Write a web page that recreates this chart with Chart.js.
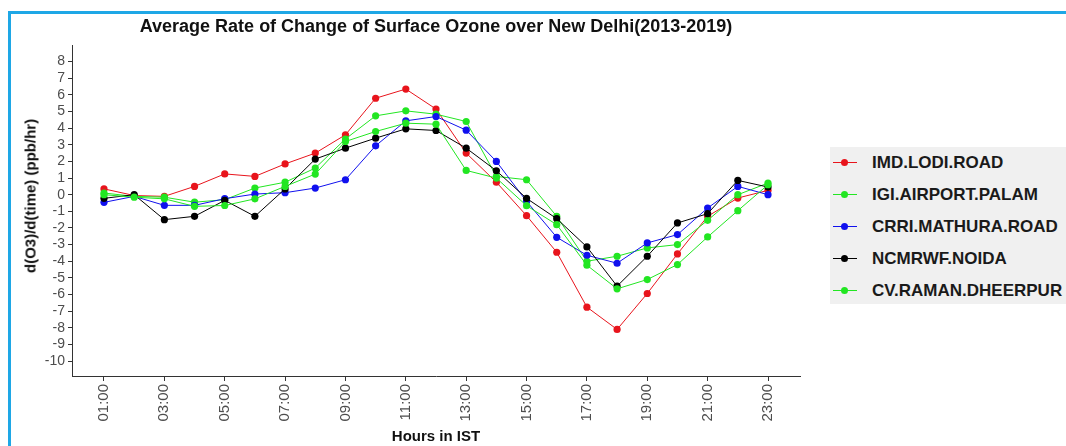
<!DOCTYPE html>
<html lang="en">
<head>
<meta charset="UTF-8">
<title>Average Rate of Change of Surface Ozone over New Delhi(2013-2019)</title>
<script src="https://cdn.jsdelivr.net/npm/chart.js"></script>
<style>
  body {
    margin: 0;
    background: white;
    font-family: 'Liberation Sans', Arial, sans-serif;
  }
  #wrap {
    position: relative;
    width: 1066px;
    height: 446px;
    overflow: hidden;
  }
  #frame {
    position: absolute;
    left: 8px;
    top: 11px;
    right: -5px;
    bottom: -5px;
    border-top: 3px solid #1ea7e6;
    border-left: 3px solid #1ea7e6;
  }
  #chartBox {
    position: absolute;
    left: 0;
    top: 0;
  }
  #yTitle {
    position: absolute;
    left: 30px;
    top: 196px;
    transform: translate(-50%, -50%) rotate(-90deg);
    font-size: 15px;
    font-weight: bold;
    color: #111;
    white-space: nowrap;
  }
  #legend {
    position: absolute;
    left: 830px;
    top: 147px;
    width: 236px;
    height: 157px;
    background: #f0f0f0;
  }
  .item {
    position: absolute;
    left: 0;
    height: 20px;
    width: 236px;
  }
  .swatch {
    position: absolute;
    left: 3px;
    top: 9px;
    width: 24px;
    height: 1px;
  }
  .dot {
    position: absolute;
    left: 11px;
    top: 6px;
    width: 7px;
    height: 7px;
    border-radius: 50%;
  }
  .label {
    position: absolute;
    left: 42px;
    top: 0;
    line-height: 20px;
    font-size: 17px;
    font-weight: bold;
    color: #1a1a1a;
    white-space: nowrap;
  }
</style>
</head>
<body>
<div id="wrap">
  <div id="frame"></div>
  <canvas id="chartBox" width="830" height="446"></canvas>
  <div id="yTitle">d(O3)/d(time) (ppb/hr)</div>
  <div id="legend"></div>
</div>

<script>
  const hourLabels = ["01:00","02:00","03:00","04:00","05:00","06:00","07:00","08:00","09:00","10:00","11:00","12:00",
                      "13:00","14:00","15:00","16:00","17:00","18:00","19:00","20:00","21:00","22:00","23:00"];
  const xTickHours = [1, 3, 5, 7, 9, 11, 13, 15, 17, 19, 21, 23];
  const yTicks = [-10, -9, -8, -7, -6, -5, -4, -3, -2, -1, 0, 1, 2, 3, 4, 5, 6, 7, 8];

  const lodiRoad   = [0.35, -0.05, -0.1, 0.5, 1.25, 1.1, 1.85, 2.5, 3.6, 5.8, 6.35, 5.15, 2.5, 0.75, -1.26, -3.46, -6.76, -8.1, -5.94, -3.56, -1.3, -0.2, 0.26];
  const airport    = [0.1, -0.1, -0.15, -0.45, -0.3, 0.4, 0.75, 1.6, 3.35, 4.74, 5.04, 4.84, 4.4, 1.1, 0.9, -1.3, -4.0, -3.7, -3.2, -3.0, -1.54, 0.0, 0.7];
  const mathura    = [-0.46, -0.1, -0.64, -0.64, -0.24, 0.04, 0.12, 0.4, 0.9, 2.94, 4.44, 4.7, 3.88, 2.0, -0.4, -2.56, -3.64, -4.12, -2.9, -2.4, -0.8, 0.5, 0.0];
  const noida      = [-0.22, 0.0, -1.5, -1.3, -0.34, -1.3, 0.35, 2.14, 2.8, 3.4, 3.96, 3.86, 2.8, 1.44, -0.22, -1.44, -3.14, -5.5, -3.7, -1.7, -1.14, 0.86, 0.46];
  const dheerpur   = [0.0, -0.15, -0.25, -0.7, -0.65, -0.25, 0.5, 1.24, 3.2, 3.8, 4.3, 4.24, 1.46, 1.0, -0.66, -1.8, -4.24, -5.66, -5.1, -4.2, -2.54, -0.96, 0.6];

  const seriesNames  = ["IMD.LODI.ROAD", "IGI.AIRPORT.PALAM", "CRRI.MATHURA.ROAD", "NCMRWF.NOIDA", "CV.RAMAN.DHEERPUR"];
  const seriesValues = [lodiRoad, airport, mathura, noida, dheerpur];
  const seriesColors = ["#e8141c", "#22e622", "#1010ee", "#000000", "#22e622"];

  Chart.defaults.font.family = "'Liberation Sans', Arial, sans-serif";

  const datasets = seriesNames.map((name, i) => ({
    label: name,
    data: seriesValues[i].map((v, h) => ({ x: h + 1, y: v })),
    borderColor: seriesColors[i],
    backgroundColor: seriesColors[i],
    pointBackgroundColor: seriesColors[i],
    pointBorderWidth: 0,
    pointRadius: 3.6,
    borderWidth: 1,
    tension: 0,
    order: seriesNames.length - i
  }));

  const ctx = document.getElementById("chartBox").getContext("2d");
  new Chart(ctx, {
    type: "line",
    data: { datasets },
    options: {
      responsive: false,
      animation: false,
      layout: { padding: { left: 0, right: 30, top: 0, bottom: 0 } },
      plugins: {
        legend: { display: false },
        tooltip: { enabled: false },
        title: {
          display: true,
          fullSize: false,
          text: "Average Rate of Change of Surface Ozone over New Delhi(2013-2019)",
          color: "#111",
          font: { size: 18, weight: "bold" },
          padding: { top: 16, bottom: 7.4 }
        }
      },
      scales: {
        x: {
          type: "linear",
          min: -0.06,
          max: 24.06,
          afterBuildTicks: s => { s.ticks = xTickHours.map(v => ({ value: v })); },
          afterFit: s => { s.height = 70; },
          ticks: {
            autoSkip: false,
            minRotation: 90,
            maxRotation: 90,
            color: "#4d4d4d",
            font: { size: 15 },
            padding: 3,
            callback: v => hourLabels[v - 1]
          },
          grid: { display: true, drawOnChartArea: false, tickLength: 5, color: "#333" },
          border: { color: "#333", width: 1 },
          title: {
            display: true,
            text: "Hours in IST",
            color: "#111",
            font: { size: 15, weight: "bold" },
            padding: { top: 0, bottom: 0 }
          }
        },
        y: {
          min: -10.9,
          max: 9.0,
          afterBuildTicks: s => { s.ticks = yTicks.map(v => ({ value: v })); },
          afterFit: s => { s.width = 72; },
          ticks: {
            autoSkip: false,
            color: "#4d4d4d",
            font: { size: 14 },
            padding: 3
          },
          grid: { display: true, drawOnChartArea: false, tickLength: 4, color: "#333" },
          border: { color: "#333", width: 1 }
        }
      }
    }
  });

  // legend box on the right, like the ggplot key
  const legend = document.getElementById("legend");
  seriesNames.forEach((name, i) => {
    const item = document.createElement("div");
    item.className = "item";
    item.style.top = (6 + i * 32) + "px";
    item.innerHTML =
      '<div class="swatch" style="background:' + seriesColors[i] + '"></div>' +
      '<div class="dot" style="background:' + seriesColors[i] + '"></div>' +
      '<div class="label">' + name + '</div>';
    legend.appendChild(item);
  });
</script>
</body>
</html>
